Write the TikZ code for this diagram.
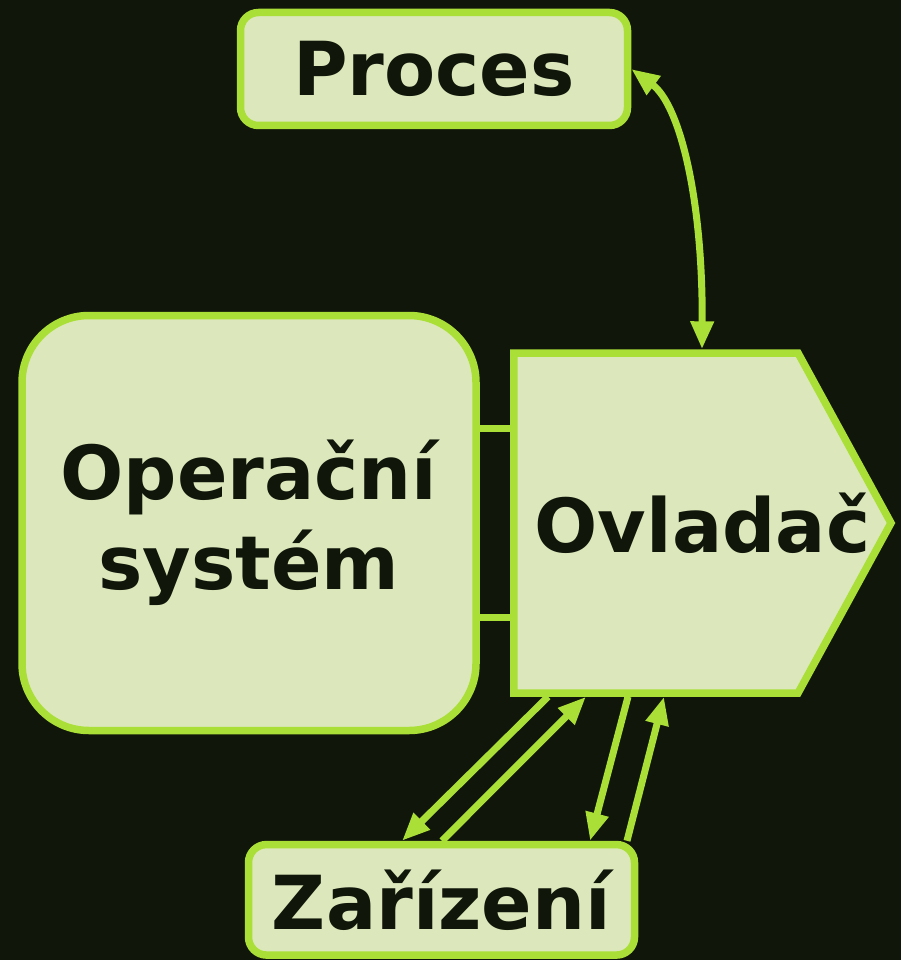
\documentclass[tikz,border=0pt]{standalone}
\usepackage{fontspec}
\setmainfont{DejaVu Sans}
\usetikzlibrary{arrows.meta,calc}
\definecolor{bg}{RGB}{17,22,10}
\definecolor{boxfill}{RGB}{220,232,187}
\definecolor{edge}{RGB}{169,223,54}
\tikzset{
  box/.style={draw=edge, fill=boxfill, line width=7.5pt, text=bg, inner sep=0pt,
    align=center, font=\fontsize{74.5}{90}\selectfont\bfseries},
  label/.style={text=bg, inner sep=0pt, font=\fontsize{74.5}{90}\selectfont\bfseries},
  link/.style={draw=edge, line width=7pt},
  tip/.style={-{Triangle[length=28pt,width=22pt]}},
  tips/.style={{Triangle[length=28pt,width=22pt]}-{Triangle[length=28pt,width=22pt]}}
}
\begin{document}
\begin{tikzpicture}[x=1pt,y=-1pt]
\fill[bg] (0,0) rectangle (901,960);
\useasboundingbox (0,0) rectangle (901,960);

% boxes
\node[box, rounded corners=18pt, minimum width=387pt, minimum height=113pt] (proc) at (434,69) {Proces};
\node[box, rounded corners=67pt, minimum width=454pt, minimum height=415pt] (os) at (249,523) {Operační\\systém};
\node[box, rounded corners=18pt, minimum width=386pt, minimum height=110.5pt] (zar) at (441.5,899.8) {Zařízení};

% driver: rectangular body plus a pointer to the east
\node[inner sep=0pt, outer sep=0pt, minimum width=284.3pt, minimum height=340pt] (ovl) at (655.9,523) {};
\filldraw[edge, fill=boxfill, line width=7.5pt]
  (ovl.north west) -- (ovl.north east) -- (ovl.east -| 891,0)
  -- (ovl.south east) -- (ovl.south west) -- cycle;
\node[label] (ovltext) at ($(ovl.west)!0.5!(ovl.east -| 891,0)$) {Ovladač};

% OS -- driver links
\draw[link] (os.east |- 0,428.7) -- (ovl.west |- 0,428.7);
\draw[link] (os.east |- 0,617) -- (ovl.west |- 0,617);

% process <-> driver
\draw[link, tips] (proc.east) .. controls (680,105) and (703,200) .. ($(ovl.north -| 702,0)+(0,-3.7)$);

% driver <-> device
\draw[link, tip] ($(ovl.south -| 548,0)+(0,3.7)$) -- (zar.north -| 402,0);
\draw[link, tip] (zar.north -| 442,0) -- ($(ovl.south -| 586,0)+(0,3.7)$);
\draw[link, tip] ($(ovl.south -| 628,0)+(0,3.7)$) -- (zar.north -| 590,0);
\draw[link, tip] (zar.north -| 627,0) -- ($(ovl.south -| 664,0)+(0,3.7)$);
\end{tikzpicture}
\end{document}
